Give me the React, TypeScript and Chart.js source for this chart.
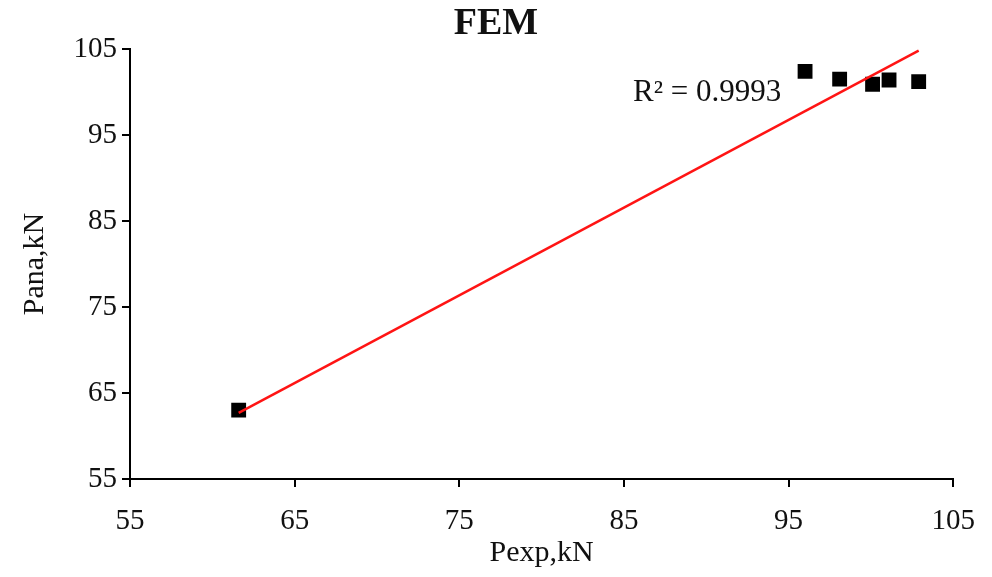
import React, { useEffect, useRef } from "react";
import { Chart, registerables } from "chart.js";

Chart.register(...registerables);

// ---- Data ----
const pExp = [61.6, 96.0, 98.1, 100.1, 101.1, 102.9];
const pAna = [63.0, 102.4, 101.5, 100.9, 101.4, 101.2];
const trendX = [61.6, 102.9];
const trendY = [62.7, 104.8];
const r2Label = "R\u00B2 = 0.9993";
const titleText = "FEM";
const xTitle = "Pexp,kN";
const yTitle = "Pana,kN";
const axisMin = 55;
const axisMax = 105;
const axisStep = 10;

const FONT = "'Liberation Serif', 'Times New Roman', serif";

const r2Plugin = {
  id: "r2Label",
  afterDatasetsDraw(chart: any) {
    const { ctx, chartArea } = chart;
    ctx.save();
    ctx.font = `31px ${FONT}`;
    ctx.fillStyle = "#111";
    ctx.textAlign = "left";
    ctx.textBaseline = "middle";
    ctx.fillText(r2Label, chartArea.left + 503, chartArea.top + 44);
    ctx.restore();
  },
};

export default function App() {
  const ref = useRef<HTMLCanvasElement | null>(null);

  useEffect(() => {
    if (!ref.current) return;
    const chart = new Chart(ref.current, {
      type: "scatter",
      data: {
        datasets: [
          {
            type: "line",
            label: "Trend",
            data: trendX.map((x, i) => ({ x, y: trendY[i] })),
            borderColor: "#ff1414",
            borderWidth: 2.5,
            pointRadius: 0,
            fill: false,
            tension: 0,
          } as any,
          {
            label: "FEM",
            data: pExp.map((x, i) => ({ x, y: pAna[i] })),
            pointStyle: "rect",
            pointRadius: 10.5,
            pointHoverRadius: 10.5,
            backgroundColor: "#000",
            borderColor: "#000",
            borderWidth: 0,
          },
        ],
      },
      options: {
        responsive: false,
        animation: false,
        layout: { padding: { left: 0, right: 0, top: 0, bottom: 0 } },
        plugins: {
          legend: { display: false },
          tooltip: { enabled: false },
          title: {
            display: true,
            text: titleText,
            color: "#111",
            font: { family: FONT, size: 38, weight: "bold" },
            padding: { top: 1, bottom: 2.4 },
          },
        },
        scales: {
          x: {
            type: "linear",
            min: axisMin,
            max: axisMax,
            border: { display: true, color: "#000", width: 2 },
            grid: {
              drawOnChartArea: false,
              drawTicks: true,
              tickLength: 8,
              color: "#000",
              lineWidth: 2,
            },
            ticks: {
              stepSize: axisStep,
              color: "#111",
              padding: 17,
              maxRotation: 0,
              autoSkip: false,
              font: { family: FONT, size: 29 },
            },
            title: {
              display: true,
              text: xTitle,
              color: "#111",
              font: { family: FONT, size: 30 },
              padding: { top: 0, bottom: 6 },
            },
            afterFit(scale: any) {
              scale.height = 98;
            },
          },
          y: {
            type: "linear",
            min: axisMin,
            max: axisMax,
            border: { display: true, color: "#000", width: 2 },
            grid: {
              drawOnChartArea: false,
              drawTicks: true,
              tickLength: 8,
              color: "#000",
              lineWidth: 2,
            },
            ticks: {
              stepSize: axisStep,
              color: "#111",
              padding: 5,
              font: { family: FONT, size: 29 },
            },
            title: {
              display: true,
              text: yTitle,
              color: "#111",
              font: { family: FONT, size: 30 },
              padding: { top: 17, bottom: 0 },
            },
            afterFit(scale: any) {
              scale.width = 130;
            },
          },
          yRightSpace: {
            type: "linear",
            position: "right",
            display: true,
            min: axisMin,
            max: axisMax,
            border: { display: false },
            grid: { display: false },
            ticks: { display: false },
            afterFit(scale: any) {
              scale.width = 38;
            },
          },
        },
      },
      plugins: [r2Plugin],
    });
    return () => chart.destroy();
  }, []);

  return (
    <div style={{ position: "absolute", left: 0, top: 0, width: 992, height: 577, background: "#fff" }}>
      <canvas ref={ref} width={992} height={577} style={{ display: "block" }} />
    </div>
  );
}
